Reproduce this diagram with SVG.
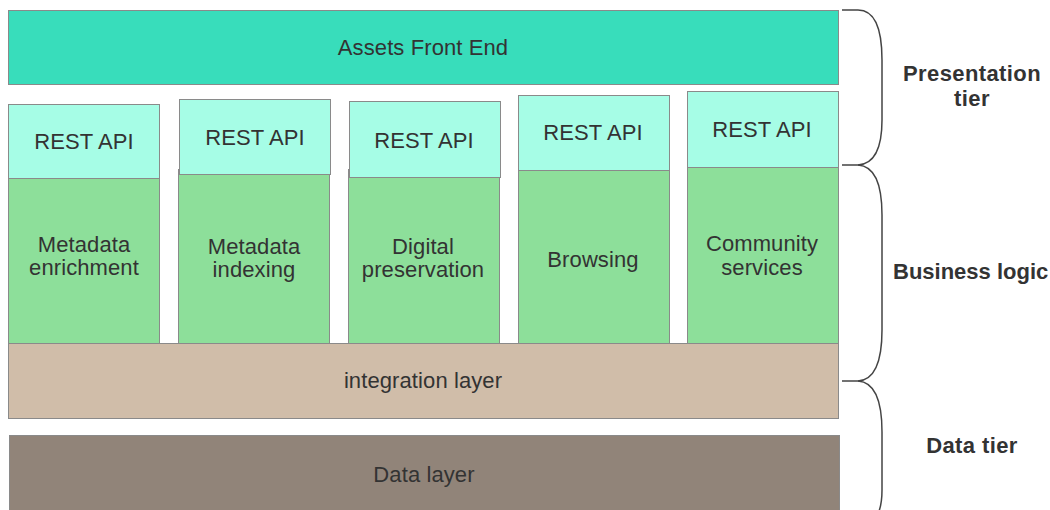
<svg xmlns="http://www.w3.org/2000/svg" width="1050" height="510" viewBox="0 0 1050 510">
<style>
  .box { stroke: #8a8a8a; stroke-width: 1; }
  .front { fill: #38ddbb; }
  .api { fill: #a6fde6; }
  .svc { fill: #8ddf9a; }
  .integ { fill: #d0bda9; }
  .data { fill: #918479; }
  .t { font-family: "Liberation Sans", Arial, sans-serif; font-size: 22px; fill: #333; text-anchor: middle; letter-spacing: 0.1px; }
  .lbl { font-family: "Liberation Sans", Arial, sans-serif; font-size: 22px; font-weight: bold; fill: #333; text-anchor: middle; letter-spacing: 0.4px; }
  .brace { fill: none; stroke: #444; stroke-width: 1.5; }
</style>
<rect width="1050" height="510" fill="#fff"/>

<g id="front-end">
  <rect class="box front" x="8.5" y="10.5" width="830" height="74"/>
  <text class="t" x="423" y="55">Assets Front End</text>
</g>

<g id="svc1">
  <rect class="box svc" x="8.5" y="167.5" width="151" height="176"/>
  <text class="t" x="84" y="252">Metadata</text>
  <text class="t" x="84" y="275">enrichment</text>
</g>
<g id="svc2">
  <rect class="box svc" x="178.5" y="169.5" width="151" height="174"/>
  <text class="t" x="254" y="254">Metadata</text>
  <text class="t" x="254" y="277">indexing</text>
</g>
<g id="svc3">
  <rect class="box svc" x="348.5" y="169.5" width="151" height="174"/>
  <text class="t" x="423" y="254">Digital</text>
  <text class="t" x="423" y="277">preservation</text>
</g>
<g id="svc4">
  <rect class="box svc" x="518.5" y="170.5" width="151" height="173"/>
  <text class="t" x="593" y="267">Browsing</text>
</g>
<g id="svc5">
  <rect class="box svc" x="687.5" y="167.5" width="151" height="176"/>
  <text class="t" x="762" y="251">Community</text>
  <text class="t" x="762" y="275">services</text>
</g>

<g id="api1">
  <rect class="box api" x="8.5" y="104.5" width="151" height="74"/>
  <text class="t" x="84" y="149">REST API</text>
</g>
<g id="api2">
  <rect class="box api" x="179.5" y="99.5" width="151" height="75"/>
  <text class="t" x="255" y="145">REST API</text>
</g>
<g id="api3">
  <rect class="box api" x="349.5" y="101.5" width="151" height="76"/>
  <text class="t" x="424" y="148">REST API</text>
</g>
<g id="api4">
  <rect class="box api" x="518.5" y="95.5" width="151" height="75"/>
  <text class="t" x="593" y="140">REST API</text>
</g>
<g id="api5">
  <rect class="box api" x="687.5" y="91.5" width="151" height="76"/>
  <text class="t" x="762" y="137">REST API</text>
</g>

<g id="integration">
  <rect class="box integ" x="8.5" y="343.5" width="830" height="75"/>
  <text class="t" x="423" y="388">integration layer</text>
</g>
<g id="data-layer">
  <rect class="box data" x="9.5" y="435.5" width="830" height="80"/>
  <text class="t" x="424" y="482">Data layer</text>
</g>

<g id="connectors">
  <path class="brace" d="M842,10 L858,10 C874,10 882,28 882,60 L882,120 C882,150 874,164 858,165 L842,165"/>
  <path class="brace" d="M858,165 C874,166 882,184 882,215 L882,330 C882,362 874,380 858,381 L842,381"/>
  <path class="brace" d="M858,381 C874,382 882,400 882,432 L882,490 C882,515 874,525 858,530"/>
</g>

<g id="tier-labels">
  <text class="lbl" x="972" y="81">Presentation</text>
  <text class="lbl" x="972" y="106">tier</text>
  <text class="lbl" x="893" y="279" style="text-anchor:start;letter-spacing:0">Business logic</text>
  <text class="lbl" x="972" y="453">Data tier</text>
</g>
</svg>
